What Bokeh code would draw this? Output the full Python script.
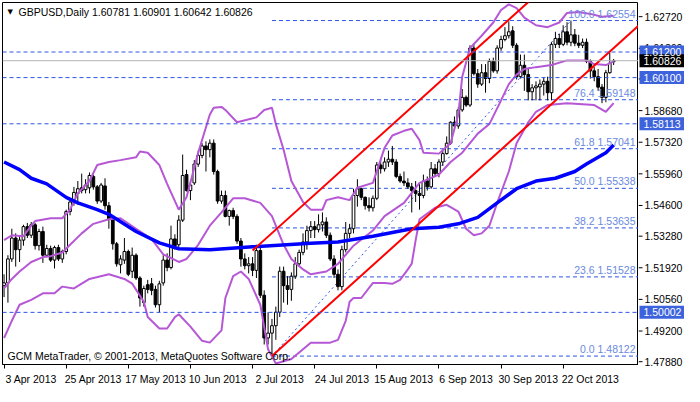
import pandas as pd
from bokeh.plotting import figure
from bokeh.layouts import row
from bokeh.models import Range1d, FixedTicker, Label, Span
from bokeh.core.properties import value
from bokeh.embed import file_html
from bokeh.resources import INLINE

symbol = "GBPUSD"
timeframe = "Daily"
first_date = "2013-04-03"

opens = [1.5115, 1.5127, 1.5230, 1.5320, 1.5270, 1.5311, 1.5369, 1.5332, 1.5377, 1.5287,
         1.5348, 1.5246, 1.5275, 1.5225, 1.5279, 1.5230, 1.5262, 1.5434, 1.5475, 1.5512,
         1.5536, 1.5528, 1.5536, 1.5585, 1.5540, 1.5479, 1.5544, 1.5459, 1.5401, 1.5295,
         1.5205, 1.5225, 1.5262, 1.5177, 1.5246, 1.5148, 1.5042, 1.5119, 1.5123, 1.5099,
         1.5033, 1.5127, 1.5225, 1.5193, 1.5316, 1.5291, 1.5397, 1.5593, 1.5524, 1.5557,
         1.5638, 1.5675, 1.5716, 1.5700, 1.5728, 1.5606, 1.5479, 1.5503, 1.5413, 1.5438,
         1.5413, 1.5307, 1.5230, 1.5201, 1.5209, 1.5181, 1.5266, 1.5074, 1.4890, 1.4911,
         1.4943, 1.5001, 1.5177, 1.5115, 1.5099, 1.5156, 1.5209, 1.5258, 1.5303, 1.5352,
         1.5369, 1.5356, 1.5377, 1.5389, 1.5332, 1.5230, 1.5164, 1.5111, 1.5270, 1.5340,
         1.5360, 1.5503, 1.5532, 1.5495, 1.5459, 1.5450, 1.5491, 1.5634, 1.5618, 1.5647,
         1.5659, 1.5647, 1.5585, 1.5565, 1.5557, 1.5540, 1.5524, 1.5512, 1.5503, 1.5565,
         1.5540, 1.5618, 1.5597, 1.5647, 1.5683, 1.5728, 1.5818, 1.5802, 1.5871, 1.5925,
         1.5892, 1.6137, 1.6027, 1.5982, 1.6031, 1.6006, 1.6080, 1.6039, 1.6137, 1.6174,
         1.6190, 1.6211, 1.6149, 1.6014, 1.6063, 1.6023, 1.5949, 1.5966, 1.5970, 1.5982,
         1.5994, 1.5945, 1.6153, 1.6178, 1.6153, 1.6207, 1.6162, 1.6194, 1.6158, 1.6149,
         1.6162, 1.6080, 1.6039, 1.6014, 1.5969, 1.5925, 1.6031, 1.60781]
highs = [1.5164, 1.5246, 1.5360, 1.5340, 1.5328, 1.5377, 1.5385, 1.5389, 1.5385, 1.5360,
         1.5369, 1.5291, 1.5287, 1.5287, 1.5291, 1.5270, 1.5442, 1.5491, 1.5540, 1.5565,
         1.5597, 1.5573, 1.5602, 1.5593, 1.5548, 1.5557, 1.5577, 1.5475, 1.5409, 1.5303,
         1.5246, 1.5320, 1.5270, 1.5279, 1.5254, 1.5156, 1.5115, 1.5140, 1.5148, 1.5115,
         1.5136, 1.5246, 1.5254, 1.5373, 1.5336, 1.5418, 1.5679, 1.5614, 1.5565, 1.5655,
         1.5696, 1.5728, 1.5736, 1.5744, 1.5744, 1.5614, 1.5524, 1.5524, 1.5442, 1.5450,
         1.5422, 1.5320, 1.5254, 1.5238, 1.5238, 1.5291, 1.5287, 1.5095, 1.5001, 1.4972,
         1.5025, 1.5197, 1.5197, 1.5156, 1.5172, 1.5238, 1.5270, 1.5340, 1.5373, 1.5393,
         1.5393, 1.5422, 1.5430, 1.5409, 1.5344, 1.5246, 1.5185, 1.5287, 1.5389, 1.5381,
         1.5532, 1.5573, 1.5536, 1.5499, 1.5495, 1.5503, 1.5647, 1.5659, 1.5667, 1.5696,
         1.5716, 1.5659, 1.5597, 1.5606, 1.5577, 1.5557, 1.5565, 1.5552, 1.5593, 1.5585,
         1.5647, 1.5638, 1.5659, 1.5700, 1.5757, 1.5822, 1.5843, 1.5884, 1.5961, 1.5933,
         1.6149, 1.6158, 1.6047, 1.6068, 1.6068, 1.6092, 1.6096, 1.6149, 1.6190, 1.6227,
         1.6252, 1.6231, 1.6158, 1.6109, 1.6109, 1.6047, 1.5982, 1.5994, 1.6002, 1.6010,
         1.6014, 1.6162, 1.6207, 1.6198, 1.6235, 1.6248, 1.62554, 1.6219, 1.6194, 1.6178,
         1.6178, 1.6088, 1.6055, 1.6047, 1.5982, 1.6043, 1.6117, 1.60901]
lows = [1.5066, 1.5042, 1.5217, 1.5197, 1.5217, 1.5287, 1.5320, 1.5320, 1.5270, 1.5266,
        1.5213, 1.5238, 1.5217, 1.5189, 1.5221, 1.5213, 1.5250, 1.5418, 1.5459, 1.5463,
        1.5512, 1.5512, 1.5512, 1.5528, 1.5467, 1.5471, 1.5442, 1.5360, 1.5270, 1.5197,
        1.5168, 1.5209, 1.5156, 1.5148, 1.5140, 1.5025, 1.5025, 1.5082, 1.5074, 1.5021,
        1.5001, 1.5115, 1.5177, 1.5185, 1.5270, 1.5279, 1.5389, 1.5520, 1.5483, 1.5548,
        1.5626, 1.5663, 1.5606, 1.5667, 1.5593, 1.5467, 1.5467, 1.5409, 1.5373, 1.5401,
        1.5295, 1.5197, 1.5185, 1.5168, 1.5156, 1.5148, 1.5062, 1.4862, 1.4862, 1.48122,
        1.4882, 1.4980, 1.5042, 1.5033, 1.5050, 1.5144, 1.5197, 1.5246, 1.5270, 1.5320,
        1.5320, 1.5344, 1.5348, 1.5320, 1.5221, 1.5148, 1.5095, 1.5095, 1.5258, 1.5320,
        1.5340, 1.5455, 1.5483, 1.5442, 1.5434, 1.5434, 1.5483, 1.5597, 1.5606, 1.5626,
        1.5634, 1.5577, 1.5557, 1.5544, 1.5532, 1.5430, 1.5475, 1.5442, 1.5491, 1.5524,
        1.5532, 1.5585, 1.5581, 1.5630, 1.5679, 1.5720, 1.5781, 1.5790, 1.5863, 1.5884,
        1.5884, 1.6019, 1.5966, 1.5974, 1.5945, 1.5986, 1.6031, 1.6027, 1.6125, 1.6166,
        1.6178, 1.6137, 1.6002, 1.6006, 1.5953, 1.5912, 1.5912, 1.5912, 1.5912, 1.5933,
        1.5912, 1.5912, 1.6137, 1.6137, 1.6145, 1.6149, 1.6145, 1.6145, 1.6137, 1.6137,
        1.6072, 1.6006, 1.5994, 1.5953, 1.5900, 1.5904, 1.6027, 1.60642]
closes = [1.5127, 1.5230, 1.5320, 1.5270, 1.5311, 1.5369, 1.5332, 1.5377, 1.5287, 1.5348,
          1.5246, 1.5275, 1.5225, 1.5279, 1.5230, 1.5262, 1.5434, 1.5475, 1.5516, 1.5532,
          1.5524, 1.5548, 1.5589, 1.5540, 1.5479, 1.5548, 1.5459, 1.5401, 1.5295, 1.5209,
          1.5230, 1.5262, 1.5164, 1.5246, 1.5148, 1.5062, 1.5103, 1.5099, 1.5095, 1.5033,
          1.5123, 1.5225, 1.5193, 1.5316, 1.5287, 1.5397, 1.5589, 1.5524, 1.5548, 1.5638,
          1.5675, 1.5716, 1.5700, 1.5728, 1.5606, 1.5479, 1.5503, 1.5413, 1.5438, 1.5413,
          1.5307, 1.5230, 1.5201, 1.5209, 1.5181, 1.5266, 1.5074, 1.4890, 1.4911, 1.4943,
          1.5001, 1.5177, 1.5115, 1.5099, 1.5156, 1.5209, 1.5258, 1.5303, 1.5352, 1.5369,
          1.5356, 1.5377, 1.5389, 1.5332, 1.5230, 1.5164, 1.5111, 1.5270, 1.5340, 1.5360,
          1.5503, 1.5532, 1.5495, 1.5459, 1.5450, 1.5491, 1.5634, 1.5618, 1.5647, 1.5659,
          1.5647, 1.5585, 1.5565, 1.5557, 1.5540, 1.5524, 1.5512, 1.5503, 1.5565, 1.5540,
          1.5618, 1.5597, 1.5647, 1.5683, 1.5728, 1.5818, 1.5802, 1.5871, 1.5925, 1.5892,
          1.6137, 1.6027, 1.5982, 1.6031, 1.6006, 1.6080, 1.6039, 1.6137, 1.6174, 1.6190,
          1.6207, 1.6149, 1.6014, 1.6063, 1.6023, 1.5949, 1.5966, 1.5974, 1.5982, 1.5994,
          1.5945, 1.6153, 1.6178, 1.6153, 1.6207, 1.6162, 1.6194, 1.6158, 1.6149, 1.6162,
          1.6080, 1.6039, 1.6014, 1.5969, 1.5925, 1.6031, 1.6072, 1.60826]

ma_bar = [0, 4, 7, 11, 16, 19, 24, 27, 34, 40, 45, 53, 64, 79, 86, 95, 105, 112, 117, 122,
          127, 132, 137, 142, 147, 150, 155, 157]
ma_val = [1.5647, 1.5614, 1.5577, 1.5553, 1.5495, 1.5471, 1.5442, 1.5422, 1.5348, 1.5299,
          1.5274, 1.5270, 1.5282, 1.5298, 1.5303, 1.5328, 1.5360, 1.5366, 1.5381, 1.5409,
          1.5471, 1.5532, 1.5565, 1.5577, 1.5606, 1.5638, 1.5687, 1.5720]

bb_up_bar = [0, 2, 5, 7, 8, 12, 15, 17, 19, 22, 24, 27, 30, 34, 35, 37, 40, 42, 45, 47,
             50, 53, 54, 56, 57, 60, 65, 67, 69, 70, 72, 74, 77, 79, 82, 83, 86, 89, 91, 95,
             98, 100, 103, 105, 107, 108, 112, 115, 117, 118, 120, 123, 126, 128, 130, 132,
             134, 137, 140, 143, 145, 148, 151, 154, 157]
bb_up_val = [1.5311, 1.5332, 1.5328, 1.5373, 1.5393, 1.5405, 1.5405, 1.5442, 1.5512, 1.5565,
             1.5634, 1.5647, 1.5655, 1.5667, 1.5692, 1.5687, 1.5634, 1.5553, 1.5442, 1.5495,
             1.5687, 1.5851, 1.5880, 1.5884, 1.5871, 1.5818, 1.5839, 1.5871, 1.5880, 1.5810,
             1.5700, 1.5565, 1.5475, 1.5442, 1.5442, 1.5483, 1.5495, 1.5483, 1.5536, 1.5557,
             1.5708, 1.5761, 1.5781, 1.5790, 1.5741, 1.5687, 1.5683, 1.5728, 1.5851, 1.6014,
             1.6137, 1.6190, 1.6247, 1.6301, 1.6325, 1.6309, 1.6268, 1.6235, 1.6227, 1.6247,
             1.6288, 1.6292, 1.6284, 1.6272, 1.6276]
bb_mid_bar = [0, 2, 4, 7, 10, 12, 15, 17, 20, 23, 27, 30, 34, 38, 41, 45, 47, 50, 53, 56,
              59, 62, 66, 69, 72, 74, 77, 79, 83, 86, 90, 95, 98, 103, 107, 112, 115, 118,
              122, 125, 128, 130, 132, 134, 137, 141, 145, 150, 152, 155, 157]
bb_mid_val = [1.5103, 1.5144, 1.5176, 1.5217, 1.5238, 1.5242, 1.5258, 1.5291, 1.5340, 1.5381,
              1.5401, 1.5405, 1.5360, 1.5315, 1.5250, 1.5217, 1.5230, 1.5291, 1.5373, 1.5430,
              1.5491, 1.5491, 1.5471, 1.5414, 1.5291, 1.5230, 1.5185, 1.5164, 1.5176, 1.5209,
              1.5287, 1.5352, 1.5414, 1.5471, 1.5557, 1.5593, 1.5647, 1.5687, 1.5769, 1.5810,
              1.5912, 1.5982, 1.6023, 1.6047, 1.6055, 1.6064, 1.6084, 1.6084, 1.6068, 1.6064,
              1.6080]
bb_low_bar = [0, 2, 4, 7, 10, 13, 15, 18, 22, 27, 31, 33, 36, 37, 40, 42, 44, 45, 48, 51,
              53, 56, 57, 59, 61, 63, 66, 68, 70, 74, 79, 84, 86, 88, 89, 90, 92, 95, 98, 100,
              102, 104, 105, 106, 107, 111, 114, 117, 119, 121, 123, 125, 127, 130, 132, 135,
              137, 140, 145, 152, 155, 157]
bb_low_val = [1.4890, 1.4964, 1.5033, 1.5054, 1.5082, 1.5082, 1.5111, 1.5103, 1.5144, 1.5164,
              1.5144, 1.5124, 1.5046, 1.4980, 1.4931, 1.4931, 1.4980, 1.4992, 1.4939, 1.4878,
              1.4870, 1.4923, 1.5062, 1.5156, 1.5176, 1.5144, 1.5033, 1.4841, 1.4780, 1.4800,
              1.4870, 1.4870, 1.4882, 1.4964, 1.5046, 1.5062, 1.5062, 1.5127, 1.5127, 1.5123,
              1.5140, 1.5185, 1.5210, 1.5310, 1.5401, 1.5450, 1.5463, 1.5434, 1.5360, 1.5332,
              1.5340, 1.5373, 1.5471, 1.5606, 1.5728, 1.5818, 1.5863, 1.5892, 1.5900, 1.5892,
              1.5863, 1.5900]

hline_levels = [1.61200, 1.60100, 1.58113, 1.50002]

fib_low_bar = 69
fib_high_bar = 146
fib_pcts = [0.0, 23.6, 38.2, 50.0, 61.8, 76.4, 100.0]

channel_slope = 0.001505
channel_upper_bar = 64
channel_upper_price = 1.5266

price_ticks = [1.47880, 1.49200, 1.50560, 1.51920, 1.53280, 1.54600, 1.55960, 1.57320,
               1.58680, 1.60040, 1.61360, 1.62720]

# ---------------------------------------------------------------------------
n = len(closes)
idx = list(range(n))
dates = pd.bdate_range(first_date, periods=n)
tick_bars = list(range(0, n, 16))
label_shift = 7.0   # MT4 date labels start at their tick: centre them half a label to the right
label_pos = [b + label_shift for b in tick_bars]
tick_labels = {b + label_shift: f"{dates[b].day} {dates[b].strftime('%b %Y')}" for b in tick_bars}

x_start, x_end = -0.4, 163.4
y_start, y_end = 1.4776, 1.6333

FONT = "Liberation Sans"
FS = "10.5px"
DASH_BLUE = "#2f55e6"
FIB_TEXT = "#6a8ae0"
BOX_BLUE = "#3d63dc"
PURPLE = "#b657d6"
FRAME_W, FRAME_H, AXIS_W, AXIS_EXTRA = 636, 362, 46, 14

# ---------------- main chart ----------------
p = figure(frame_width=FRAME_W, frame_height=FRAME_H, output_backend="svg",
           toolbar_location=None, x_range=Range1d(x_start, x_end),
           y_range=Range1d(y_start, y_end),
           y_axis_location=None, x_axis_location="below",
           min_border_left=2, min_border_top=2, min_border_right=0, min_border_bottom=0)
p.background_fill_color = "white"
p.border_fill_color = "white"
p.outline_line_color = "black"
p.outline_line_width = 1
p.grid.visible = False

p.xaxis.ticker = FixedTicker(ticks=label_pos, minor_ticks=tick_bars)
p.xaxis.major_label_overrides = tick_labels
p.xaxis.major_label_text_font = FONT
p.xaxis.major_label_text_font_size = FS
p.xaxis.major_label_text_color = "black"
p.xaxis.axis_line_color = "black"
p.xaxis.major_tick_line_color = None
p.xaxis.major_tick_in = 0
p.xaxis.major_tick_out = 0
p.xaxis.major_label_standoff = 4
p.xaxis.minor_tick_line_color = "black"
p.xaxis.minor_tick_in = 0
p.xaxis.minor_tick_out = 4

for lvl in hline_levels:
    p.add_layout(Span(location=lvl, dimension="width", line_color=DASH_BLUE,
                      line_dash="4 3", line_width=1))

fib_lo = lows[fib_low_bar]
fib_hi = highs[fib_high_bar]
fib_levels = [fib_lo + pct / 100.0 * (fib_hi - fib_lo) for pct in fib_pcts]
p.segment(x0=[fib_low_bar] * len(fib_levels), y0=fib_levels,
          x1=[x_end + 5] * len(fib_levels), y1=fib_levels,
          line_color=DASH_BLUE, line_dash="4 3", line_width=1)
p.line([fib_low_bar, fib_high_bar], [fib_lo, fib_hi], line_color=DASH_BLUE,
       line_dash="2 3", line_width=1)

last_close = closes[-1]
p.add_layout(Span(location=last_close, dimension="width", line_color="#b4b4b4", line_width=1))

body_top = [max(o, c) for o, c in zip(opens, closes)]
body_bot = [min(o, c) for o, c in zip(opens, closes)]
body_col = ["white" if c >= o else "black" for o, c in zip(opens, closes)]
p.segment(x0=idx, y0=lows, x1=idx, y1=highs, line_color="black", line_width=1)
p.vbar(x=idx, width=0.7, top=body_top, bottom=body_bot, fill_color=body_col,
       line_color="black", line_width=1)

for bx, bv in ((bb_up_bar, bb_up_val), (bb_mid_bar, bb_mid_val), (bb_low_bar, bb_low_val)):
    p.line(bx, bv, line_color=PURPLE, line_width=2)

p.line(ma_bar, ma_val, line_color="#0000ff", line_width=3.5)

ch_end = x_end + 10
p.line([fib_low_bar, ch_end], [fib_lo, fib_lo + channel_slope * (ch_end - fib_low_bar)],
       line_color="#ff0000", line_width=2)
p.line([channel_upper_bar, ch_end],
       [channel_upper_price, channel_upper_price + channel_slope * (ch_end - channel_upper_bar)],
       line_color="#ff0000", line_width=2)

for pct, lvl in zip(fib_pcts, fib_levels):
    p.add_layout(Label(x=x_end, y=lvl, x_offset=-3, y_offset=1, text=f"{pct:.1f} {lvl:.5f}",
                       text_align="right", text_baseline="bottom", text_color=FIB_TEXT,
                       text_font=FONT, text_font_size=FS))

title = f"{symbol},{timeframe}  {opens[-1]:.5f} {highs[-1]:.5f} {lows[-1]:.5f} {closes[-1]:.5f}"
p.add_layout(Label(x=x_start, y=y_end, x_offset=16, y_offset=-3, text=title,
                   text_baseline="top", text_font=FONT, text_font_size=FS,
                   text_color="black"))
p.add_layout(Label(x=x_start, y=y_end, x_offset=5, y_offset=-5, text="\u25bc",
                   text_baseline="top", text_font="DejaVu Sans", text_font_size="7px",
                   text_color="black"))
p.add_layout(Label(x=x_start, y=y_start, x_offset=5, y_offset=3,
                   text="GCM MetaTrader, \u00a9 2001-2013, MetaQuotes Software Corp.",
                   text_baseline="bottom", text_font=FONT, text_font_size=FS,
                   text_color="black"))

# ---------------- price scale strip (right) ----------------
# same price-per-pixel scale as the chart, a few pixels taller so the lowest label fits;
# x in this strip is measured in pixels from the chart's right border
strip_start = y_start - AXIS_EXTRA * (y_end - y_start) / FRAME_H
s = figure(frame_width=AXIS_W, frame_height=FRAME_H + AXIS_EXTRA, output_backend="svg",
           toolbar_location=None, x_range=Range1d(0, AXIS_W),
           y_range=Range1d(strip_start, y_end),
           x_axis_location=None, y_axis_location=None,
           min_border_left=0, min_border_top=2, min_border_right=0, min_border_bottom=0)
s.background_fill_color = "white"
s.border_fill_color = "white"
s.outline_line_color = None
s.grid.visible = False

k = len(price_ticks)
s.segment(x0=[0] * k, y0=price_ticks, x1=[4] * k, y1=price_ticks,
          line_color="black", line_width=1)
s.text(x=[6] * k, y=price_ticks, text=[f"{t:.5f}" for t in price_ticks],
       text_align="left", text_baseline="middle", text_color="black",
       text_font=value(FONT), text_font_size=value(FS))

box_levels = hline_levels + [last_close]
box_colors = [BOX_BLUE] * len(hline_levels) + ["black"]
nb = len(box_levels)
s.rect(x=[AXIS_W / 2 + 0.5] * nb, y=box_levels, width=[AXIS_W - 1] * nb,
       height=13, height_units="screen", fill_color=box_colors, line_color=None)
s.text(x=[5] * nb, y=box_levels, text=[f"{b:.5f}" for b in box_levels],
       text_align="left", text_baseline="middle", text_color="white",
       text_font=value(FONT), text_font_size=value(FS))

layout = row(p, s)
open("out.html", "w").write(file_html(layout, INLINE))
